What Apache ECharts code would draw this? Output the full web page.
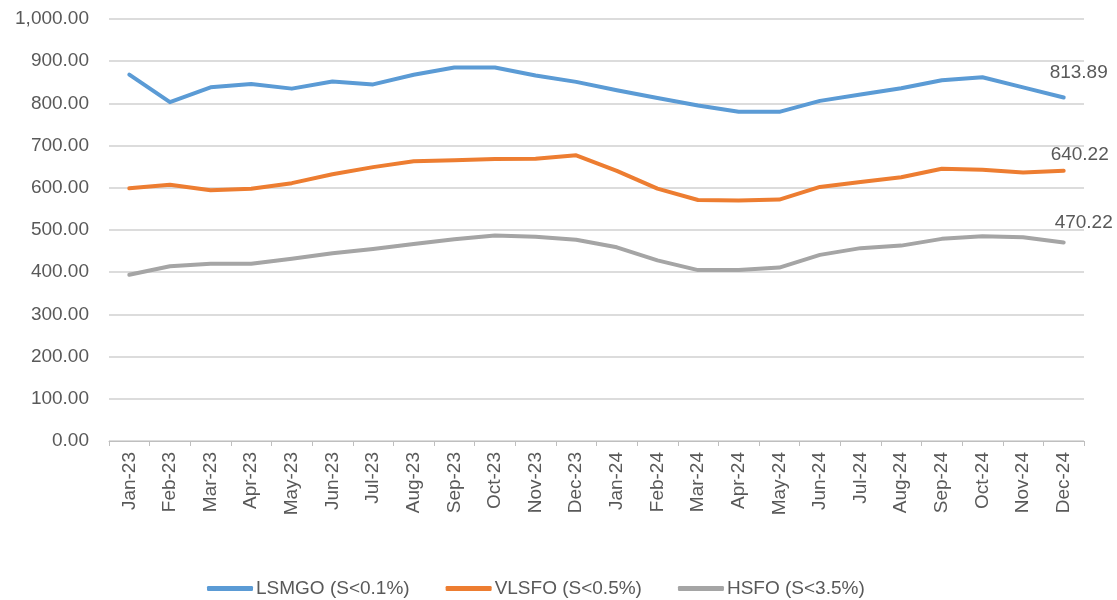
<!DOCTYPE html>
<html>
<head>
<meta charset="utf-8">
<script src="https://cdn.jsdelivr.net/npm/echarts@6/dist/echarts.min.js"></script>
<style>html,body{margin:0;padding:0;background:#fff}#c{width:1117px;height:600px}</style>
</head>
<body>
<div id="c"></div>
<script>
const categories = ['Jan-23','Feb-23','Mar-23','Apr-23','May-23','Jun-23','Jul-23','Aug-23','Sep-23','Oct-23','Nov-23','Dec-23',
  'Jan-24','Feb-24','Mar-24','Apr-24','May-24','Jun-24','Jul-24','Aug-24','Sep-24','Oct-24','Nov-24','Dec-24'];
const lsmgo = [868, 803, 838, 846, 835, 852, 845, 868, 885, 885, 866, 851, 831, 813, 795, 780, 780, 806, 821, 836, 855, 862, 838, 813.89];
const vlsfo = [599, 607, 594, 598, 611, 632, 649, 663, 665, 668, 669, 677, 640, 598, 571, 570, 572, 602, 614, 625, 645, 643, 636, 640.22];
const hsfo = [394, 414, 420, 420, 432, 445, 455, 467, 478, 487, 484, 477, 459, 428, 405, 405, 411, 441, 457, 463, 479, 485, 483, 470.22];
const seriesNames = ['LSMGO (S<0.1%)', 'VLSFO (S<0.5%)', 'HSFO (S<3.5%)'];
const colors = ['#5B9BD5', '#ED7D31', '#A5A5A5'];
const labelOffsets = [[15, -10], [16, -2], [20, -5]];

const FONT = 'Liberation Sans, Arial, sans-serif';
function withEndLabel(arr) {
  return arr.map((v, i) => i === arr.length - 1 ? { value: v, label: { show: true } } : v);
}
const allData = [lsmgo, vlsfo, hsfo];
const chart = echarts.init(document.getElementById('c'));
chart.setOption({
  animation: false,
  color: colors,
  grid: { left: 109, right: 33, top: 19, bottom: 159, containLabel: false },
  legend: {
    left: 202, top: 574,
    itemWidth: 46, itemHeight: 5, itemGap: 36,
    icon: 'roundRect',
    textStyle: { color: '#595959', fontSize: 19, fontFamily: FONT, padding: [0, 0, 0, -2] },
    data: seriesNames
  },
  xAxis: {
    type: 'category',
    data: categories,
    boundaryGap: true,
    axisLine: { lineStyle: { color: '#BFBFBF', width: 1 } },
    axisTick: { show: true, length: 5, alignWithLabel: false, lineStyle: { color: '#BFBFBF' } },
    axisLabel: { interval: 0, rotate: 90, margin: 11, color: '#595959', fontSize: 19, fontFamily: FONT }
  },
  yAxis: {
    type: 'value', min: 0, max: 1000, interval: 100,
    axisLine: { show: false }, axisTick: { show: false },
    splitLine: { lineStyle: { color: '#D0D0D0', width: 1.5 } },
    axisLabel: {
      margin: 20, color: '#595959', fontSize: 19, fontFamily: FONT,
      formatter: v => v.toLocaleString('en-US', { minimumFractionDigits: 2, maximumFractionDigits: 2 })
    }
  },
  series: allData.map((arr, k) => ({
    name: seriesNames[k],
    type: 'line',
    data: withEndLabel(arr),
    smooth: false,
    showSymbol: true,
    symbol: 'circle',
    symbolSize: 0,
    lineStyle: { width: 4, color: colors[k], cap: 'round', join: 'round' },
    itemStyle: { color: colors[k] },
    label: {
      show: false, position: 'top', offset: labelOffsets[k],
      color: '#595959', fontSize: 19, fontFamily: FONT,
      formatter: p => Number(p.value).toFixed(2)
    },
    emphasis: { disabled: true }
  }))
});
</script>
</body>
</html>
